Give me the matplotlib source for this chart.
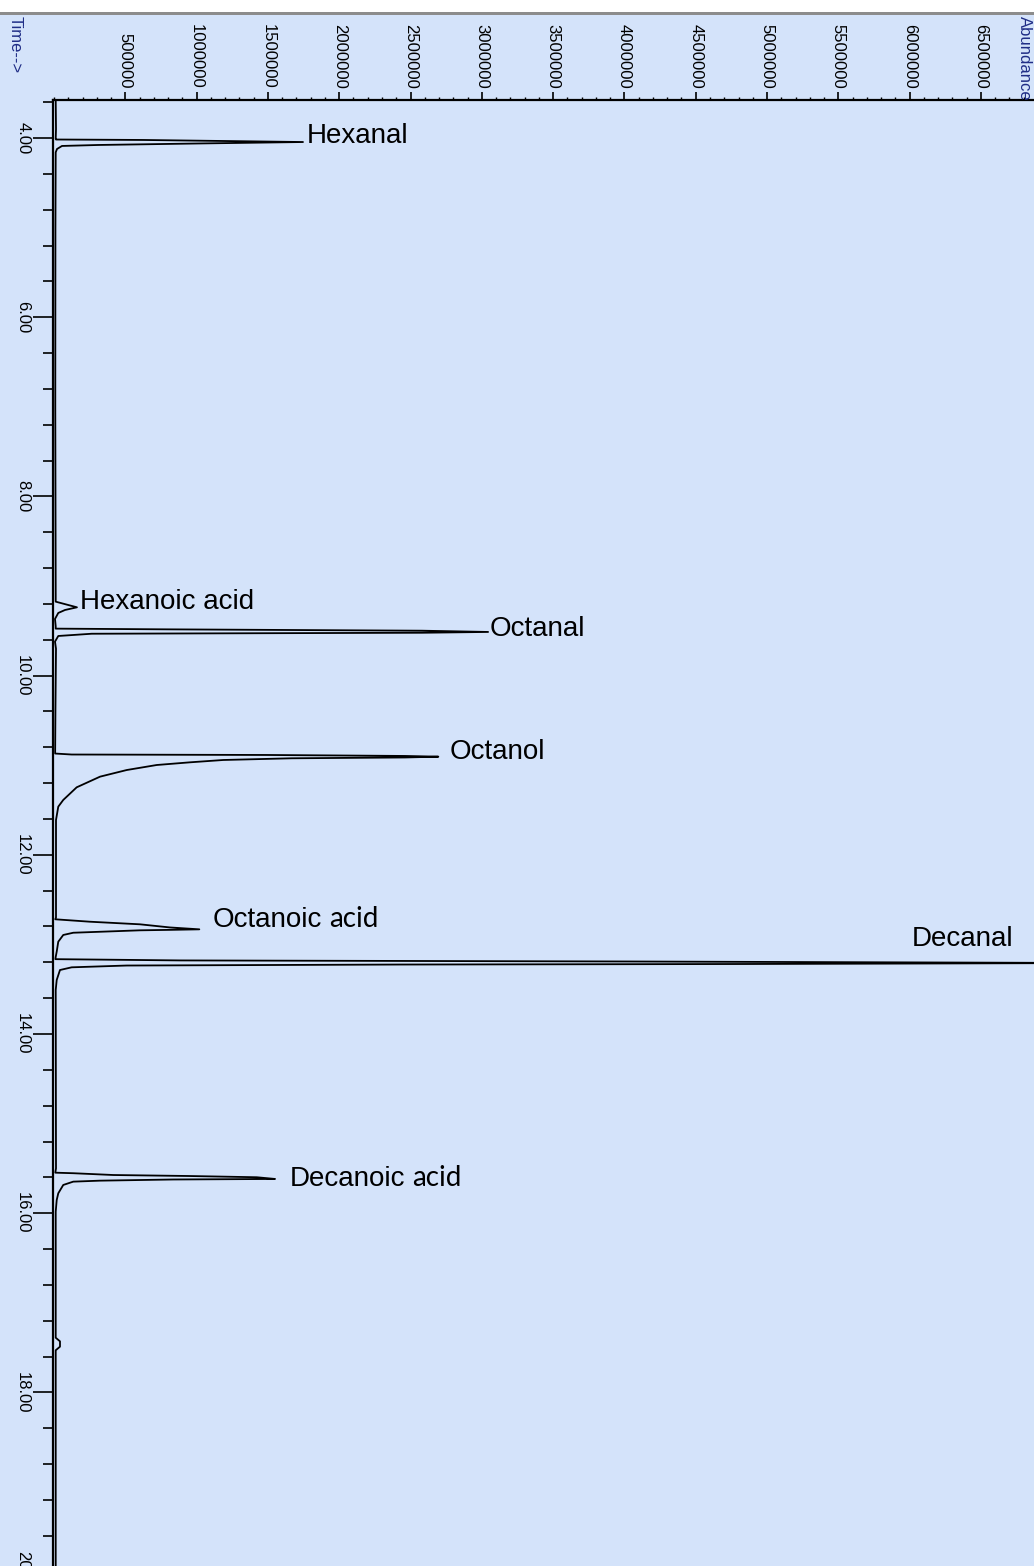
import matplotlib
matplotlib.use("Agg")
import matplotlib.pyplot as plt
from matplotlib import font_manager
from matplotlib.ticker import FixedLocator, MultipleLocator, FormatStrFormatter
from matplotlib.patches import Rectangle

# chromatogram trace (retention time in min, abundance)
time_min = [
    3.58, 3.90, 4.010,
    # Hexanal
    4.017, 4.022, 4.045, 4.061, 4.078, 4.089, 4.123, 4.16,
    # Hexanoic acid
    5.00, 7.00, 9.10, 9.175, 9.238, 9.268, 9.301, 9.368, 9.45,
    # Octanal
    9.476, 9.484, 9.499, 9.513, 9.522, 9.527, 9.533, 9.558, 9.621, 9.70,
    # Octanol
    10.40, 10.87, 10.881, 10.886, 10.897, 10.905, 10.914, 10.923, 10.942,
    10.968, 10.998, 11.054, 11.128, 11.247, 11.388, 11.463, 11.612,
    # Octanoic acid
    12.70, 12.72, 12.747, 12.776, 12.811, 12.832, 12.838, 12.843, 12.870,
    12.895, 12.970, 13.081, 13.14,
    # Decanal
    13.165, 13.179, 13.191, 13.208, 13.219, 13.225, 13.236, 13.256, 13.286,
    13.397, 13.509,
    # Decanoic acid
    15.50, 15.548, 15.554, 15.574, 15.585, 15.599, 15.618, 15.624, 15.637,
    15.648, 15.685, 15.778, 15.853, 15.983,
    # small bump + end
    17.39, 17.43, 17.49, 17.53, 20.10,
]
abundance = [
    12000, 14000, 12000,
    14000, 624000, 1746000, 1024000, 309000, 56000, 21000, 12000,
    10000, 9000, 12000, 12000, 161000, 77000, 30000, 7000, 12000,
    12000, 800000, 2579000, 3044000, 2579000, 1492000, 264000, 30000, 7000, 14000,
    10000, 8000, 124000, 1492000, 2461000, 2695000, 2461000, 1667000, 1187000,
    954000, 720000, 510000, 323000, 159000, 65000, 30000, 14000,
    14000, 9000, 252000, 603000, 813000, 1019000, 813000, 603000, 135000,
    65000, 30000, 19000, 12000,
    10000, 884000, 4040000, 7340000, 4846000, 2426000, 510000, 124000, 42000,
    19000, 12000,
    14000, 9000, 135000, 416000, 942000, 1422000, 1550000, 837000, 323000,
    135000, 65000, 30000, 19000, 12000,
    12000, 42000, 42000, 12000, 12000,
]

peak_names = ["Hexanal", "Hexanoic acid", "Octanal", "Octanol",
              "Octanoic acid", "Decanal", "Decanoic acid"]
# label anchors (abundance, time) for the text baselines
label_x = [1774000, 182000, 3058000, 2777000, 1115000, 6017000, 1655000]
label_y = [4.052, 9.26, 9.558, 10.93, 12.811, 13.018, 15.696]
mixed_font = ["Octanoic acid", "Decanoic acid"]

x_ticks = list(range(500000, 7000001, 500000))
y_ticks = [4, 6, 8, 10, 12, 14, 16, 18, 20]

BG = "#d4e3fa"
NAVY = "#1f2d86"

installed = {f.name for f in font_manager.fontManager.ttflist}
if "Liberation Sans Narrow" in installed:
    tick_font, tick_size = "Liberation Sans Narrow", 14.5
else:
    tick_font, tick_size = "Liberation Sans", 12
arial = "Liberation Sans"
calib = "Lato"

W, H = 1034, 1566
fig = plt.figure(figsize=(W / 100, H / 100), dpi=100, facecolor=BG)
ax = fig.add_axes([53 / W, -14 / H, (W - 53) / W, 1480 / H])
ax.set_facecolor(BG)

ax.plot(abundance, time_min, color="black", lw=1.3)

ax.set_xlim(-7000, 6872000)
ax.set_ylim(20.094, 3.576)

for s in ["right", "bottom"]:
    ax.spines[s].set_visible(False)
for s in ["left", "top"]:
    ax.spines[s].set_linewidth(1.6)
    ax.spines[s].set_color("black")

ax.xaxis.tick_top()
ax.xaxis.set_major_locator(FixedLocator(x_ticks))
ax.xaxis.set_minor_locator(MultipleLocator(100000))
ax.xaxis.set_major_formatter(FormatStrFormatter("%d"))
ax.yaxis.set_major_locator(FixedLocator(y_ticks))
ax.yaxis.set_minor_locator(MultipleLocator(0.4))
ax.yaxis.set_major_formatter(FormatStrFormatter("%.2f"))

ax.tick_params(axis="x", which="major", length=6, width=1.2, pad=2,
               labelsize=tick_size, labelrotation=270, labelfontfamily=tick_font)
ax.tick_params(axis="x", which="minor", length=2, width=1.0)
ax.tick_params(axis="y", which="major", length=14.4, width=1.2, pad=2,
               labelsize=tick_size, labelrotation=270, labelfontfamily=tick_font)
ax.tick_params(axis="y", which="minor", length=7.2, width=1.2)
plt.setp(ax.get_yticklabels(), va="center")

# peak labels
fig.canvas.draw()
renderer = fig.canvas.get_renderer()
for name, lx, ly in zip(peak_names, label_x, label_y):
    if name in mixed_font:
        first, second = name.split(" ")
        t1 = ax.text(lx, ly, first, fontsize=20, family=arial, va="baseline", ha="left")
        w = t1.get_window_extent(renderer).width * 72 / fig.dpi
        ax.annotate(second, xy=(lx, ly), xytext=(w + 5, 0), textcoords="offset points",
                    fontsize=20, family=calib, va="baseline", ha="left")
    else:
        ax.text(lx, ly, name, fontsize=20, family=arial, va="baseline", ha="left")

# window chrome at the top
fig.add_artist(Rectangle((0, 1 - 12 / H), 1, 12 / H, transform=fig.transFigure,
                         facecolor="white", edgecolor="none"))
fig.add_artist(Rectangle((0, 1 - 15 / H), 1, 3 / H, transform=fig.transFigure,
                         facecolor="#8c8c8c", edgecolor="none"))

fig.text(8 / W, 1 - 16 / H, "Time-->", rotation=270, ha="left", va="top",
         fontsize=12, color=NAVY, family=tick_font)
fig.text(1017 / W, 1 - 16 / H, "Abundance", rotation=270, ha="left", va="top",
         fontsize=12, color=NAVY, family=tick_font)

fig.savefig("out.png", dpi=100, facecolor=BG)
